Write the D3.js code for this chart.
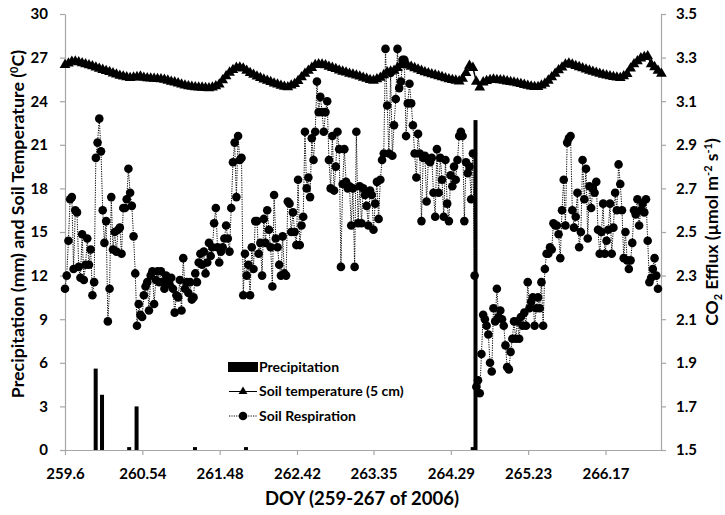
<!DOCTYPE html>
<html>
<head>
<meta charset="utf-8">
<script src="https://cdn.jsdelivr.net/npm/d3@7"></script>
<style>
  body { margin: 0; background: #fff; }
  text { font-family: Lato, "Open Sans", sans-serif; font-weight: 700; fill: #000; }
</style>
</head>
<body>
<svg id="chart" width="725" height="515"></svg>
<script>
// Soil temperature at 5 cm (°C), hourly from DOY 259.6
const tempStart = 259.6;
const tempStepDays = 1 / 24;
const soilTemp = [
  26.50, 26.60, 26.72, 26.74, 26.68, 26.62, 26.55, 26.48, 26.41, 26.33,
  26.24, 26.16, 26.08, 26.01, 25.92, 25.84, 25.76, 25.70, 25.65, 25.60,
  25.63, 25.66, 25.70, 25.62, 25.59, 25.57, 25.55, 25.53, 25.51, 25.48,
  25.42, 25.35, 25.30, 25.23, 25.16, 25.09, 25.03, 25.00, 24.97, 24.95,
  24.94, 24.92, 24.90, 24.95, 25.03, 25.15, 25.45, 25.72, 25.97, 26.15,
  26.30, 26.33, 26.25, 26.10, 25.95, 25.83, 25.71, 25.60, 25.50, 25.41,
  25.33, 25.22, 25.15, 25.07, 25.00, 24.96, 25.08, 25.19, 25.40, 25.65,
  25.90, 26.10, 26.30, 26.50, 26.54, 26.52, 26.48, 26.38, 26.30, 26.22,
  26.12, 26.04, 25.98, 25.90, 25.84, 25.78, 25.70, 25.62, 25.55, 25.47,
  25.42, 25.52, 25.62, 25.80, 26.00, 26.05, 26.10, 26.30, 26.50, 26.58,
  26.46, 26.38, 26.28, 26.18, 26.09, 26.00, 25.93, 25.86, 25.80, 25.73,
  25.66, 25.59, 25.52, 25.47, 25.42, 25.37, 25.55, 25.95, 26.45, 26.30,
  25.35, 24.95, 25.30, 25.40, 25.47, 25.50, 25.47, 25.45, 25.42, 25.37,
  25.33, 25.29, 25.24, 25.19, 25.13, 25.07, 25.02, 24.98, 24.98, 25.08,
  25.20, 25.42, 25.65, 25.90, 26.13, 26.32, 26.53, 26.60, 26.52, 26.43,
  26.35, 26.27, 26.19, 26.11, 26.03, 25.96, 25.90, 25.83, 25.77, 25.72,
  25.67, 25.63, 25.60, 25.72, 25.88, 26.25, 26.55, 26.75, 26.95, 27.05,
  27.10, 26.55, 26.35, 26.10, 25.90
];

// Soil respiration, CO2 efflux (µmol m-2 s-1), every 30 minutes from DOY 259.6
const respStart = 259.6;
const respStepDays = 1 / 48;
const soilResp = [
  2.24, 2.30, 2.46, 2.65, 2.66, 2.33, 2.60, 2.59, 2.34, 2.29, 2.49, 2.28, 2.35, 2.47, 2.35, 2.42,
  2.21, 2.27, 2.84, 2.91, 3.02, 2.87, 2.60, 2.45, 2.55, 2.09, 2.24, 2.66, 2.42, 2.50, 2.41, 2.51,
  2.52, 2.40, 2.61, 2.61, 2.65, 2.79, 2.68, 2.62, 2.48, 2.31, 2.07, 2.17, 2.12, 2.11, 2.21, 2.25,
  2.27, 2.14, 2.30, 2.32, 2.17, 2.28, 2.32, 2.27,
  2.32, 2.27, 2.24, 2.30, 2.27, 2.26, 2.29, 2.24, 2.13, 2.21, 2.20, 2.28, 2.14, 2.38, 2.24, 2.27,
  2.22, 2.27, 2.19, 2.20, 2.31, 2.27, 2.36, 2.40, 2.35, 2.41, 2.31, 2.36, 2.45, 2.39, 2.43, 2.54,
  2.61, 2.43, 2.36, 2.41, 2.43, 2.47, 2.53, 2.47, 2.41, 2.61, 2.82, 2.91, 2.66, 2.94, 2.83, 2.84,
  2.21, 2.40, 2.30, 2.35, 2.21, 2.43, 2.33, 2.55,
  2.55, 2.40, 2.45, 2.30, 2.56, 2.45, 2.60, 2.51, 2.43, 2.25, 2.67, 2.47, 2.43, 2.35, 2.30, 2.48,
  2.31, 2.30, 2.64, 2.63, 2.50, 2.59, 2.50, 2.44, 2.74, 2.44, 2.53, 2.57, 2.96, 2.70, 2.75, 2.66,
  2.93, 2.83, 2.96, 3.19, 3.05, 3.12, 3.05, 2.96, 3.05, 3.10, 2.83, 2.70, 2.94, 2.69, 2.80, 2.96,
  2.88, 2.34, 2.72, 2.88, 2.73, 2.70, 2.71, 2.53, 2.70, 2.34, 2.96, 2.54, 2.71,
  2.54, 2.70, 2.67, 2.62, 2.53, 2.69, 2.67, 2.51, 2.63, 2.73, 2.56, 2.74, 2.83, 2.86, 3.34, 3.08,
  2.86, 3.23, 2.85, 2.99, 3.11, 3.34, 3.16, 3.19, 3.29, 3.29, 2.94, 3.09, 3.18, 3.09, 2.99, 2.86,
  2.75, 2.95, 2.86, 2.55, 2.84, 2.85, 2.64, 2.83, 2.82, 2.84, 2.68, 2.57, 2.88, 2.68, 2.84, 2.74,
  2.57, 2.83, 2.63, 2.55, 2.76, 2.71, 2.80, 2.74, 2.83, 2.94,
  2.96, 2.94, 2.55, 2.82, 2.77, 2.80, 2.65, 2.86, 2.30, 1.79, 1.82, 1.76, 1.94, 2.12, 2.10, 2.07,
  2.03, 1.90, 1.86, 2.15, 2.09, 2.24, 2.11, 2.14, 2.10, 2.07, 1.98, 1.88, 1.87, 1.95, 2.01, 2.09,
  2.01, 2.09, 2.01, 2.11, 2.07, 2.13, 2.07, 2.27, 2.15, 2.18, 2.20, 2.07, 2.15, 2.20, 2.15, 2.27,
  2.07, 2.33, 2.40, 2.40, 2.43, 2.42, 2.54, 2.53,
  2.53, 2.49, 2.38, 2.60, 2.74, 2.53, 2.91, 2.93, 2.94, 2.60, 2.52, 2.57, 2.68, 2.43, 2.50, 2.83,
  2.65, 2.79, 2.47, 2.71, 2.61, 2.70, 2.68, 2.73, 2.51, 2.40, 2.50, 2.63, 2.40, 2.46, 2.51, 2.63,
  2.40, 2.52, 2.68, 2.60, 2.81, 2.72, 2.60, 2.38, 2.50, 2.37, 2.33, 2.37, 2.45, 2.60, 2.58, 2.65,
  2.53, 2.60, 2.63, 2.59, 2.65, 2.46, 2.27, 2.29, 2.33, 2.38, 2.30, 2.24
];

// Precipitation events (mm)
const precipDoy = [259.973, 260.050, 260.380, 260.470, 261.180, 261.800, 264.556, 264.590];
const precipMm  = [5.6, 3.8, 0.2, 3.0, 0.2, 0.2, 0.2, 22.7];

// Axis ticks
const doyTicks = [259.6, 260.54, 261.48, 262.42, 263.35, 264.29, 265.23, 266.17];
const leftTicks = [0, 3, 6, 9, 12, 15, 18, 21, 24, 27, 30];
const rightTicks = [1.5, 1.7, 1.9, 2.1, 2.3, 2.5, 2.7, 2.9, 3.1, 3.3, 3.5];

const legendLabels = ["Precipitation", "Soil temperature (5 cm)", "Soil Respiration"];

// ---- layout ----
const svg = d3.select("#chart");
const plot = { left: 65, right: 661, top: 14, bottom: 450 };
const axisGrey = "#a6a6a6";

const x = d3.scaleLinear().domain([259.6, 266.845]).range([plot.left, plot.right]);
const yL = d3.scaleLinear().domain([0, 30]).range([plot.bottom, plot.top]);
const yR = d3.scaleLinear().domain([1.5, 3.5]).range([plot.bottom, plot.top]);

const tempData = soilTemp.map((v, i) => ({ doy: tempStart + i * tempStepDays, v }));
const respData = soilResp.map((v, i) => ({ doy: respStart + i * respStepDays, v }));
const precipData = precipDoy.map((d, i) => ({ doy: d, v: precipMm[i] }));

// ---- axes ----
function styleAxis(g, fontSize) {
  g.select(".domain").attr("stroke", axisGrey).attr("stroke-width", 1.2);
  g.selectAll(".tick line").attr("stroke", axisGrey).attr("stroke-width", 1.2);
  g.selectAll(".tick text")
    .attr("font-family", "Lato, 'Open Sans', sans-serif")
    .attr("font-weight", 700)
    .attr("font-size", fontSize)
    .attr("fill", "#000");
}

svg.append("g")
  .attr("transform", `translate(0,${plot.bottom})`)
  .call(d3.axisBottom(x).tickValues(doyTicks).tickFormat(d => String(d))
    .tickSize(5).tickSizeOuter(0).tickPadding(13))
  .call(g => styleAxis(g, 15));

svg.append("g")
  .attr("transform", `translate(${plot.left},0)`)
  .call(d3.axisLeft(yL).tickValues(leftTicks).tickFormat(d3.format("d"))
    .tickSize(5).tickSizeOuter(0).tickPadding(12))
  .call(g => styleAxis(g, 15));

svg.append("g")
  .attr("transform", `translate(${plot.right},0)`)
  .call(d3.axisRight(yR).tickValues(rightTicks).tickFormat(d3.format(".1f"))
    .tickSize(5).tickSizeOuter(0).tickPadding(10))
  .call(g => styleAxis(g, 15));

// ---- precipitation bars ----
const barW = 4;
svg.append("g").selectAll("rect")
  .data(precipData)
  .join("rect")
  .attr("x", d => x(d.doy) - barW / 2)
  .attr("y", d => yL(d.v))
  .attr("width", barW)
  .attr("height", d => yL(0) - yL(d.v))
  .attr("fill", "#000");

// ---- soil temperature: solid line with triangle markers ----
const tri = d3.symbol().type(d3.symbolTriangle).size(50);
svg.append("path")
  .datum(tempData)
  .attr("fill", "none")
  .attr("stroke", "#000")
  .attr("stroke-width", 1.5)
  .attr("d", d3.line().x(d => x(d.doy)).y(d => yL(d.v)));
svg.append("g").selectAll("path")
  .data(tempData)
  .join("path")
  .attr("transform", d => `translate(${x(d.doy)},${yL(d.v)})`)
  .attr("d", tri)
  .attr("fill", "#000");

// ---- soil respiration: dotted line with circle markers ----
svg.append("path")
  .datum(respData)
  .attr("fill", "none")
  .attr("stroke", "#000")
  .attr("stroke-width", 1)
  .attr("stroke-dasharray", "1.2,1.2")
  .attr("d", d3.line().x(d => x(d.doy)).y(d => yR(d.v)));
svg.append("g").selectAll("circle")
  .data(respData)
  .join("circle")
  .attr("cx", d => x(d.doy))
  .attr("cy", d => yR(d.v))
  .attr("r", 4.3)
  .attr("fill", "#000");

// ---- legend ----
const lg = svg.append("g").attr("transform", "translate(228,0)");
const rows = [367, 391.5, 416];
const legTri = d3.symbol().type(d3.symbolTriangle).size(34);
lg.append("rect").attr("x", 0).attr("y", rows[0] - 5).attr("width", 30).attr("height", 10).attr("fill", "#000");
lg.append("line").attr("x1", 1).attr("x2", 29).attr("y1", rows[1]).attr("y2", rows[1])
  .attr("stroke", "#000").attr("stroke-width", 1);
lg.append("path").attr("transform", `translate(15,${rows[1]})`).attr("d", legTri).attr("fill", "#000");
lg.append("line").attr("x1", 1).attr("x2", 29).attr("y1", rows[2]).attr("y2", rows[2])
  .attr("stroke", "#000").attr("stroke-width", 1).attr("stroke-dasharray", "1.2,1.2");
lg.append("circle").attr("cx", 15).attr("cy", rows[2]).attr("r", 4.3).attr("fill", "#000");
lg.selectAll("text.lab")
  .data(legendLabels)
  .join("text")
  .attr("class", "lab")
  .attr("x", 31)
  .attr("y", (d, i) => rows[i])
  .attr("dy", "0.35em")
  .attr("font-size", 14)
  .text(d => d);

// ---- axis titles ----
svg.append("text")
  .attr("x", 362).attr("y", 505)
  .attr("text-anchor", "middle")
  .attr("font-size", 18.5)
  .text("DOY (259-267 of 2006)");

const leftTitle = svg.append("text")
  .attr("transform", "translate(24,224) rotate(-90)")
  .attr("text-anchor", "middle")
  .attr("font-size", 17.8);
leftTitle.append("tspan").text("Precipitation (mm) and Soil Temperature (");
leftTitle.append("tspan").attr("dy", -6).attr("font-size", 11).text("0");
leftTitle.append("tspan").attr("dy", 6).text("C)");

const rightTitle = svg.append("text")
  .attr("transform", "translate(718,232) rotate(-90)")
  .attr("text-anchor", "middle")
  .attr("font-size", 17.5);
rightTitle.append("tspan").text("CO");
rightTitle.append("tspan").attr("dy", 4).attr("font-size", 11).text("2");
rightTitle.append("tspan").attr("dy", -4).text(" Efflux (µmol m");
rightTitle.append("tspan").attr("dy", -6).attr("font-size", 11).text("-2");
rightTitle.append("tspan").attr("dy", 6).text(" s");
rightTitle.append("tspan").attr("dy", -6).attr("font-size", 11).text("-1");
rightTitle.append("tspan").attr("dy", 6).text(")");
</script>
</body>
</html>
